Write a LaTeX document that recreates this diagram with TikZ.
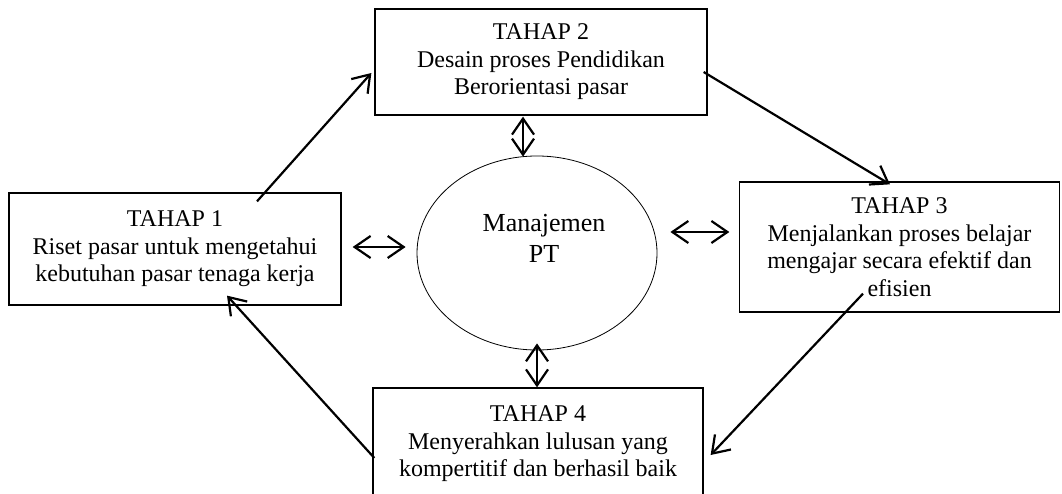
\documentclass[tikz,border=0pt]{standalone}
\usepackage{fontspec}
\setmainfont{Liberation Serif}
\usetikzlibrary{shapes.geometric,arrows.meta}
\begin{document}
\begin{tikzpicture}[x=1pt,y=-1pt,
  stage/.style={draw=black, line width=1.3pt, rectangle, align=center, inner sep=0pt,
    font=\fontsize{24}{27.5}\selectfont},
  barb/.tip={Straight Barb[length=16pt,width=22pt]},
  arr/.style={line width=2.2pt, -barb},
  darr/.style={line width=2.2pt, barb-barb},
  ptext/.style={align=center, inner sep=0pt, font=\fontsize{26}{31}\selectfont}]
\useasboundingbox (0,0) rectangle (1062,494);
\clip (0,0) rectangle (1062,494);
\node[stage, minimum width=332pt, minimum height=112pt] (t1) at (175,249)
  {TAHAP 1\\Riset pasar untuk mengetahui\\kebutuhan pasar tenaga kerja};
\node[stage, minimum width=332pt, minimum height=106pt] (t2) at (541,62)
  {TAHAP 2\\Desain proses Pendidikan\\Berorientasi pasar};
\node[stage, minimum width=320pt, minimum height=130pt] (t3) at (899.5,247)
  {TAHAP 3\\Menjalankan proses belajar\\mengajar secara efektif dan\\efisien};
\node[stage, minimum width=330pt, minimum height=112pt] (t4) at (538,444)
  {TAHAP 4\\Menyerahkan lulusan yang\\kompertitif dan berhasil baik};
\node[draw=black, line width=0.8pt, ellipse, minimum width=240pt, minimum height=194pt, inner sep=0pt] (pt) at (537,253) {};
\node[ptext] (ptl) at (544,238) {Manajemen\\PT};
% cycle arrows
\draw[arr] ([shift={(82,9)}]t1.north) -- ([shift={(-3,11)}]t2.west);
\draw[arr] ([shift={(-4,10)}]t2.east) -- ([shift={(-9.5,3)}]t3.north);
\draw[arr] ([shift={(-36.5,-19)}]t3.south) -- ([shift={(7,11)}]t4.east);
\draw[arr] ([shift={(2,14)}]t4.west) -- ([shift={(52,-10)}]t1.south);
% double arrows
\draw[darr] ([shift={(11,-2)}]t1.east) -- ([shift={(-11,-6)}]pt.west);
\draw[darr] ([shift={(13,-21)}]pt.east) -- ([shift={(-9.5,-15)}]t3.west);
\draw[darr] ([shift={(-18,1)}]t2.south) -- ([shift={(-14,1)}]pt.north);
\draw[darr] ([shift={(0,-7)}]pt.south) -- ([shift={(-1,0)}]t4.north);
\end{tikzpicture}
\end{document}
